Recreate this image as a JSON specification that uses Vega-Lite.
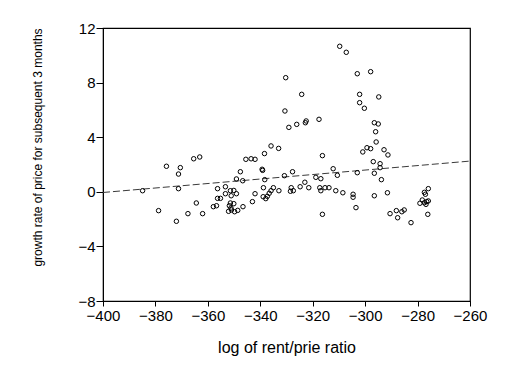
{
  "$schema": "https://vega.github.io/schema/vega-lite/v6.json",
  "width": 367,
  "height": 273,
  "autosize": {"type": "none"},
  "padding": {"left": 103, "top": 28, "right": 42, "bottom": 69},
  "background": "white",
  "config": {
    "font": "Liberation Sans",
    "view": {"stroke": "black", "strokeWidth": 1.2},
    "axis": {
      "grid": false,
      "domainColor": "black",
      "tickColor": "black",
      "labelColor": "black",
      "titleColor": "black",
      "titleFontWeight": "normal",
      "labelFont": "Liberation Sans",
      "titleFont": "Liberation Sans"
    }
  },
  "datasets": {
    "points": [
      {"x": -384.9, "y": 0.08}, {"x": -378.8, "y": -1.38}, {"x": -375.8, "y": 1.87}, {"x": -370.5, "y": 1.77},
      {"x": -371.2, "y": 1.30}, {"x": -371.2, "y": 0.23}, {"x": -372.0, "y": -2.16}, {"x": -367.6, "y": -1.60},
      {"x": -364.4, "y": -0.82}, {"x": -362.0, "y": -1.60}, {"x": -365.4, "y": 2.42}, {"x": -363.1, "y": 2.55},
      {"x": -357.9, "y": -1.09}, {"x": -356.7, "y": -1.02}, {"x": -356.3, "y": 0.23}, {"x": -356.3, "y": -0.48},
      {"x": -355.2, "y": -0.48}, {"x": -353.3, "y": 0.37}, {"x": -353.3, "y": -0.14}, {"x": -351.4, "y": 0.08},
      {"x": -350.1, "y": 0.10}, {"x": -351.1, "y": -0.29}, {"x": -349.1, "y": -0.14}, {"x": -351.4, "y": -0.82},
      {"x": -350.1, "y": -0.87}, {"x": -351.8, "y": -1.02}, {"x": -351.2, "y": -1.19}, {"x": -352.1, "y": -1.43},
      {"x": -351.0, "y": -1.33}, {"x": -349.8, "y": -1.46}, {"x": -348.6, "y": -1.36}, {"x": -346.6, "y": -1.09},
      {"x": -349.1, "y": 0.94}, {"x": -346.7, "y": 0.81}, {"x": -347.6, "y": 1.47}, {"x": -345.5, "y": 2.38},
      {"x": -343.5, "y": 2.42}, {"x": -342.0, "y": 2.38}, {"x": -343.0, "y": -0.72}, {"x": -342.0, "y": -0.14},
      {"x": -339.3, "y": 1.65}, {"x": -339.1, "y": 1.57}, {"x": -338.4, "y": 2.80}, {"x": -338.8, "y": 0.30},
      {"x": -338.3, "y": 0.89}, {"x": -338.9, "y": -0.36}, {"x": -337.9, "y": -0.50}, {"x": -337.3, "y": -0.33},
      {"x": -336.6, "y": -0.11}, {"x": -335.9, "y": 0.08}, {"x": -335.0, "y": 0.30}, {"x": -332.9, "y": 0.08},
      {"x": -335.9, "y": 3.36}, {"x": -333.0, "y": 3.18}, {"x": -316.3, "y": 2.65}, {"x": -316.3, "y": -1.65},
      {"x": -330.8, "y": 1.18}, {"x": -327.7, "y": 1.47}, {"x": -318.8, "y": 1.06}, {"x": -316.9, "y": 0.96},
      {"x": -312.2, "y": 1.69}, {"x": -310.6, "y": 1.21}, {"x": -303.0, "y": 1.40}, {"x": -296.5, "y": 1.36},
      {"x": -296.9, "y": 2.21}, {"x": -294.3, "y": 2.06}, {"x": -294.3, "y": 1.77}, {"x": -293.8, "y": 0.89},
      {"x": -328.2, "y": 0.30}, {"x": -328.5, "y": 0.04}, {"x": -327.4, "y": 0.08}, {"x": -324.8, "y": 0.37},
      {"x": -323.0, "y": 0.70}, {"x": -321.5, "y": 0.30}, {"x": -317.3, "y": 0.30}, {"x": -316.9, "y": 0.08},
      {"x": -315.3, "y": 0.30}, {"x": -313.8, "y": 0.30}, {"x": -311.2, "y": 0.08}, {"x": -308.5, "y": -0.07},
      {"x": -304.6, "y": -0.18}, {"x": -304.6, "y": -0.40}, {"x": -303.5, "y": -1.16}, {"x": -296.5, "y": -0.29},
      {"x": -291.5, "y": -0.07}, {"x": -290.5, "y": -1.60}, {"x": -288.1, "y": -1.38}, {"x": -287.6, "y": -1.90},
      {"x": -286.0, "y": -1.46}, {"x": -285.1, "y": -1.33}, {"x": -282.5, "y": -2.26}, {"x": -275.9, "y": 0.23},
      {"x": -277.4, "y": -0.04}, {"x": -277.0, "y": -0.18}, {"x": -278.2, "y": -0.60}, {"x": -279.1, "y": -0.84},
      {"x": -277.4, "y": -0.80}, {"x": -276.5, "y": -0.72}, {"x": -275.9, "y": -0.67}, {"x": -276.8, "y": -0.92},
      {"x": -276.1, "y": -1.65}, {"x": -309.7, "y": 10.66}, {"x": -307.2, "y": 10.22}, {"x": -303.0, "y": 8.65},
      {"x": -297.9, "y": 8.80}, {"x": -330.3, "y": 8.36}, {"x": -324.2, "y": 7.14}, {"x": -302.1, "y": 7.14},
      {"x": -302.1, "y": 6.53}, {"x": -300.3, "y": 6.12}, {"x": -294.8, "y": 6.95}, {"x": -330.6, "y": 5.92},
      {"x": -329.1, "y": 4.72}, {"x": -326.1, "y": 4.94}, {"x": -322.8, "y": 5.06}, {"x": -322.5, "y": 5.19},
      {"x": -317.6, "y": 5.31}, {"x": -296.5, "y": 5.06}, {"x": -295.0, "y": 4.97}, {"x": -296.0, "y": 4.40},
      {"x": -295.8, "y": 3.65}, {"x": -299.3, "y": 3.23}, {"x": -297.9, "y": 3.16}, {"x": -300.9, "y": 2.92},
      {"x": -292.8, "y": 3.08}, {"x": -291.3, "y": 2.70}
    ],
    "fit": [
      {"x": -400, "y": -0.05},
      {"x": -260, "y": 2.25}
    ]
  },
  "layer": [
    {
      "data": {"name": "fit"},
      "mark": {"type": "line", "color": "#3a3a3a", "strokeWidth": 1, "strokeDash": [7, 3]},
      "encoding": {
        "x": {"field": "x", "type": "quantitative"},
        "y": {"field": "y", "type": "quantitative"}
      }
    },
    {
      "data": {"name": "points"},
      "mark": {"type": "point", "shape": "circle", "filled": false, "color": "black", "strokeWidth": 1, "size": 20, "opacity": 1},
      "encoding": {
        "x": {
          "field": "x", "type": "quantitative",
          "scale": {"domain": [-400, -260], "nice": false, "zero": false},
          "axis": {
            "values": [-400, -380, -360, -340, -320, -300, -280, -260],
            "title": "log of rent/prie ratio",
            "tickSize": 5, "labelPadding": 2, "labelFontSize": 15, "titleFontSize": 16,
            "titlePadding": 16, "labelFlush": false, "labelOverlap": false
          }
        },
        "y": {
          "field": "y", "type": "quantitative",
          "scale": {"domain": [-8, 12], "nice": false, "zero": false},
          "axis": {
            "values": [-8, -4, 0, 4, 8, 12],
            "title": "growth rate of price for subsequent 3 months",
            "tickSize": 7, "labelPadding": 1, "labelFontSize": 15, "titleFontSize": 12,
            "titlePadding": 33, "titleY": 119, "labelFlush": false, "labelOverlap": false
          }
        }
      }
    }
  ]
}
